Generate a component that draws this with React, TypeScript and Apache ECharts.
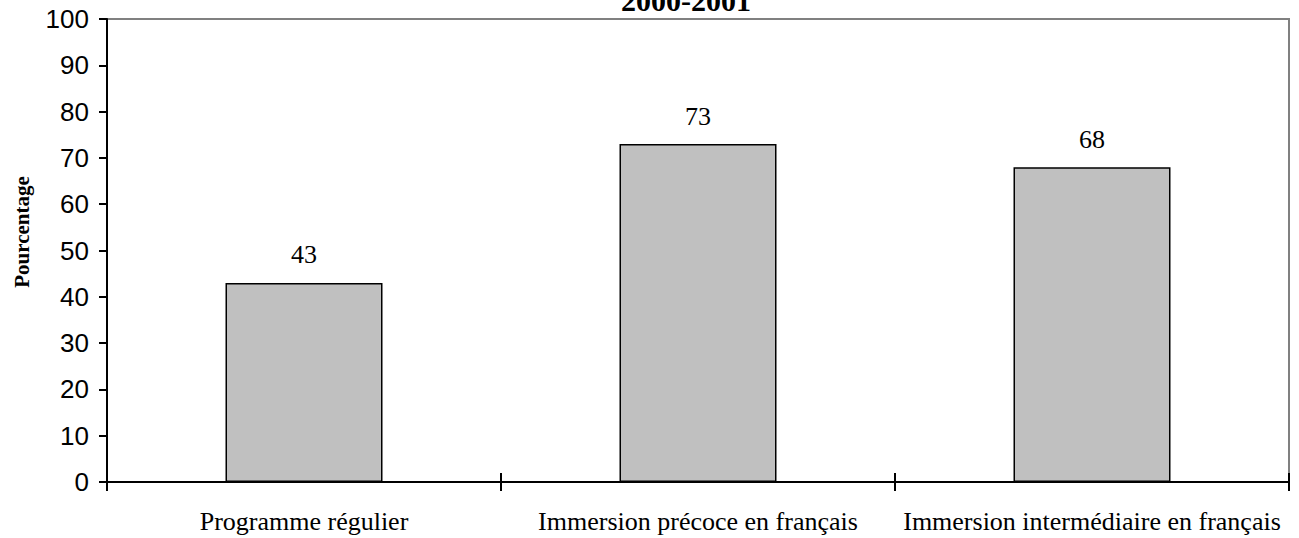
import React, { useEffect, useRef } from "react";
import * as echarts from "echarts";

const categories = ["Programme régulier", "Immersion précoce en français", "Immersion intermédiaire en français"];
const values = [43, 73, 68];
const titleText = "2000-2001";
const yAxisName = "Pourcentage";

export default function App() {
  const ref = useRef<HTMLDivElement>(null);
  useEffect(() => {
    const chart = echarts.init(ref.current!, undefined, { renderer: "svg" });
    chart.setOption({
      animation: false,
      backgroundColor: "#ffffff",
      title: {
        text: titleText,
        left: 681,
        textAlign: "center",
        top: -20,
        textStyle: { fontFamily: "Liberation Serif", fontWeight: "bold", fontSize: 30, color: "#000" },
      },
      grid: {
        left: 107,
        right: 10,
        top: 19,
        bottom: 56,
        containLabel: false,
        outerBoundsMode: "none",
        show: true,
        borderColor: "#808080",
        borderWidth: 2,
        backgroundColor: "transparent",
      },
      graphic: [
        {
          type: "text",
          x: 22,
          y: 232,
          rotation: Math.PI / 2,
          style: {
            text: yAxisName,
            fontFamily: "Liberation Serif",
            fontWeight: "bold",
            fontSize: 21,
            fill: "#000",
            align: "center",
            verticalAlign: "middle",
          },
        },
      ],
      xAxis: [
        {
          type: "category",
          data: categories,
          position: "bottom",
          axisLine: { show: true, lineStyle: { color: "#000", width: 2 } },
          axisTick: { show: true, inside: false, length: 9, lineStyle: { color: "#000", width: 2 } },
          axisLabel: {
            margin: 26,
            fontFamily: "Liberation Serif",
            fontSize: 26,
            color: "#000",
            interval: 0,
          },
          splitLine: { show: false },
        },
        {
          type: "category",
          data: categories,
          position: "bottom",
          axisLine: { show: false },
          axisTick: { show: true, inside: true, length: 9, lineStyle: { color: "#000", width: 2 } },
          axisLabel: { show: false },
          splitLine: { show: false },
        },
      ],
      yAxis: {
        type: "value",
        min: 0,
        max: 100,
        interval: 10,
        axisLine: { show: true, lineStyle: { color: "#000", width: 2 } },
        axisTick: { show: true, length: 8, lineStyle: { color: "#000", width: 2 } },
        axisLabel: { margin: 18, fontFamily: "Liberation Sans", fontSize: 26, color: "#000" },
        splitLine: { show: false },
      },
      series: [
        {
          type: "bar",
          data: values,
          xAxisIndex: 0,
          barWidth: 157,
          itemStyle: { color: "#C0C0C0", borderColor: "#000", borderWidth: 1.5 },
          label: {
            show: true,
            position: "top",
            distance: 15,
            fontFamily: "Liberation Serif",
            fontSize: 26,
            color: "#000",
          },
        },
      ],
    });
    return () => chart.dispose();
  }, []);
  return <div ref={ref} style={{ width: 1299, height: 538, position: "absolute", left: 0, top: 0 }} />;
}
